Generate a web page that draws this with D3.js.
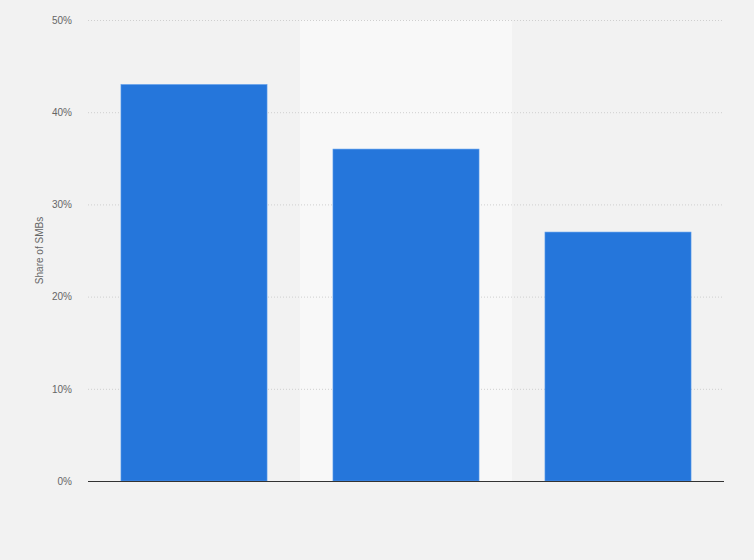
<!DOCTYPE html>
<html><head><meta charset="utf-8">
<script src="https://cdn.jsdelivr.net/npm/d3@7"></script>
<style>html,body{margin:0;padding:0;background:#f2f2f2;}svg{display:block;}</style>
</head><body><svg id="c" width="754" height="560"></svg>
<script>
const categories = ["A", "B", "C"];
const values = [43, 36, 27];
const yTicks = [0, 10, 20, 30, 40, 50];
const yLabel = "Share of SMBs";

const W = 754, H = 560;
const m = {left: 88, right: 30, top: 20, bottom: 79};
const svg = d3.select("#c");
svg.append("rect").attr("width", W).attr("height", H).attr("fill", "#f2f2f2");

const x = d3.scaleBand().domain(categories).range([m.left, W - m.right]).paddingInner(0.311).paddingOuter(0.1555);
const xb = d3.scaleBand().domain(categories).range([m.left, W - m.right]);
const y = d3.scaleLinear().domain([0, 50]).range([H - m.bottom, m.top]);

// alternating band
svg.append("rect").attr("x", xb(categories[1])).attr("y", y(50)).attr("width", xb.bandwidth())
  .attr("height", y(0) - y(50)).attr("fill", "#f8f8f8");

// grid
const yAxis = d3.axisLeft(y).tickValues(yTicks).tickFormat(d => d + "%").tickSize(0).tickPadding(16);
const g = svg.append("g").attr("transform", `translate(${m.left},0)`).call(yAxis);
g.select(".domain").remove();
g.selectAll("text").attr("font-family", "Arial, 'Liberation Sans', sans-serif").attr("font-size", 10).attr("fill", "#666");
svg.append("g").selectAll("line").data(yTicks.filter(d => d > 0)).join("line")
  .attr("x1", m.left).attr("x2", W - m.right).attr("y1", d => y(d) + 0.5).attr("y2", d => y(d) + 0.5)
  .attr("stroke", "#cfcfcf").attr("stroke-dasharray", "1,2");

// bars
svg.append("g").selectAll("rect").data(values).join("rect")
  .attr("x", (d, i) => x(categories[i])).attr("y", d => y(d))
  .attr("width", x.bandwidth()).attr("height", d => y(0) - y(d))
  .attr("fill", "#2576db").attr("stroke", "#5b9cec").attr("stroke-width", 0.6);

// baseline
svg.append("line").attr("x1", m.left).attr("x2", W - m.right).attr("y1", y(0) + 0.5).attr("y2", y(0) + 0.5)
  .attr("stroke", "#333").attr("stroke-width", 1.2);

svg.append("text").attr("transform", `translate(43,${(y(0) + y(50)) / 2}) rotate(-90)`)
  .attr("text-anchor", "middle").attr("font-family", "Arial, 'Liberation Sans', sans-serif")
  .attr("font-size", 10).attr("fill", "#666").text(yLabel);
</script></body></html>
